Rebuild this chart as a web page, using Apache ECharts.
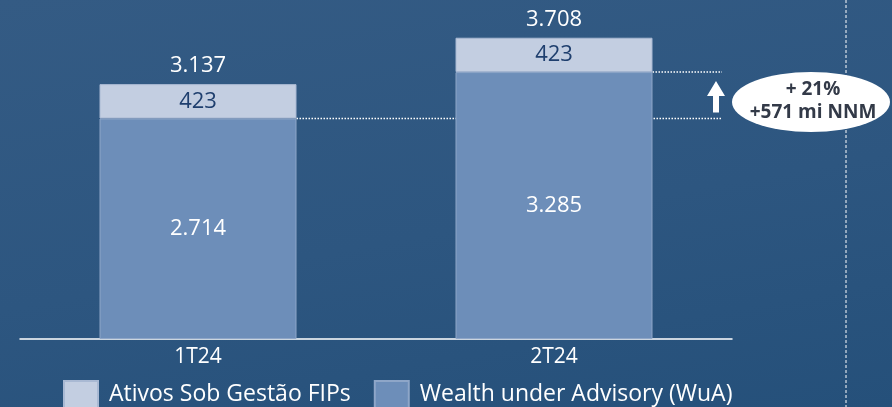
<!DOCTYPE html>
<html>
<head>
<meta charset="utf-8">
<script src="https://cdn.jsdelivr.net/npm/echarts@6/dist/echarts.min.js"></script>
<style>
  html, body { margin: 0; padding: 0; }
  #main {
    width: 892px; height: 407px;
    background: linear-gradient(170deg, #345b84 0%, #2d5680 55%, #25507a 100%);
  }
</style>
</head>
<body>
<div id="main"></div>
<script>
// dados
var categorias = ['1T24', '2T24']
var wua = [2714, 3285]          // Wealth under Advisory (WuA)
var fips = [423, 423]           // Ativos Sob Gestão FIPs
var nomeFips = 'Ativos Sob Gestão FIPs'
var nomeWua = 'Wealth under Advisory (WuA)'
var destaque = ['+ 21%', '+571 mi NNM']

var totais = wua.map(function (v, i) { return v + fips[i] })

var FONTE = '"Open Sans", "Noto Sans", sans-serif'
var LARGURA_BARRA = 197

// formato pt-BR: 3.137
function fmt(v) {
  return String(v).replace(/\B(?=(\d{3})+(?!\d))/g, '.')
}

var chart = echarts.init(document.getElementById('main'), null, { renderer: 'canvas' })

var option = {
  backgroundColor: 'transparent',
  animation: false,
  grid: { left: 20, right: 160, top: 14, bottom: 68 },
  legend: {
    data: [nomeFips, nomeWua],
    left: 63,
    top: 380,
    padding: 0,
    itemWidth: 34,
    itemHeight: 27,
    itemGap: 23,
    icon: 'rect',
    textStyle: { color: '#ffffff', fontSize: 23, fontFamily: FONTE, padding: [0, 0, 0, 6] }
  },
  xAxis: {
    type: 'category',
    data: categorias,
    axisLine: { lineStyle: { color: '#ffffff', width: 1.5 } },
    axisTick: { show: false },
    axisLabel: { color: '#ffffff', fontSize: 21, fontFamily: FONTE, margin: 8 }
  },
  yAxis: {
    type: 'value',
    min: 0,
    max: 4000,
    show: false,
    splitLine: { show: false }
  },
  series: [
    {
      name: nomeWua,
      type: 'bar',
      stack: 'total',
      barWidth: LARGURA_BARRA,
      data: wua,
      itemStyle: { color: '#6d8eb9', borderColor: '#8ea6c8', borderWidth: 1 },
      label: {
        show: true,
        position: 'inside',
        color: '#ffffff',
        fontSize: 22,
        fontFamily: FONTE,
        formatter: function (p) { return fmt(p.value) }
      }
    },
    {
      name: nomeFips,
      type: 'bar',
      stack: 'total',
      barWidth: LARGURA_BARRA,
      data: fips,
      itemStyle: { color: '#c3cee1', borderColor: '#a9b9d3', borderWidth: 1 },
      label: {
        show: true,
        position: 'inside',
        color: '#1f3f6e',
        fontSize: 22,
        fontFamily: FONTE,
        formatter: function (p) { return fmt(p.value) }
      }
    },
    {
      // só para o rótulo do total
      name: 'Total',
      type: 'bar',
      barWidth: LARGURA_BARRA,
      barGap: '-100%',
      data: totais,
      z: 0,
      silent: true,
      itemStyle: { color: 'rgba(0,0,0,0)' },
      label: {
        show: true,
        position: 'top',
        distance: 7,
        color: '#ffffff',
        fontSize: 22,
        fontFamily: FONTE,
        formatter: function (p) { return fmt(p.value) }
      }
    }
  ]
}

chart.setOption(option)

// anotações: linhas pontilhadas, seta, elipse e linha tracejada
var p1 = chart.convertToPixel({ seriesIndex: 0 }, [categorias[0], wua[0]])
var p2 = chart.convertToPixel({ seriesIndex: 0 }, [categorias[1], wua[1]])
var fimLinha = 722
var xSeta = 716
var cx = 811, cy = 102

chart.setOption({
  graphic: [
    {
      type: 'line',
      shape: { x1: p1[0] + LARGURA_BARRA / 2, y1: p1[1], x2: fimLinha, y2: p1[1] },
      style: { stroke: '#ffffff', lineWidth: 1.5, lineDash: [1.5, 1.5] }
    },
    {
      type: 'line',
      shape: { x1: p2[0] + LARGURA_BARRA / 2, y1: p2[1], x2: fimLinha, y2: p2[1] },
      style: { stroke: '#ffffff', lineWidth: 1.5, lineDash: [1.5, 1.5] }
    },
    {
      type: 'polygon',
      shape: {
        points: [
          [xSeta - 3, p1[1] - 6], [xSeta + 3, p1[1] - 6], [xSeta + 3, p2[1] + 24],
          [xSeta + 9, p2[1] + 24], [xSeta, p2[1] + 9], [xSeta - 9, p2[1] + 24],
          [xSeta - 3, p2[1] + 24]
        ]
      },
      style: { fill: '#ffffff' }
    },
    {
      type: 'circle',
      x: cx, y: cy,
      scaleX: 79 / 30,
      shape: { cx: 0, cy: 0, r: 30 },
      style: { fill: '#ffffff' }
    },
    {
      type: 'text',
      x: 813, y: 90,
      style: {
        text: destaque[0], fill: '#333a48', font: 'bold 19px ' + FONTE,
        textAlign: 'center', textVerticalAlign: 'middle'
      }
    },
    {
      type: 'text',
      x: 813, y: 113,
      style: {
        text: destaque[1], fill: '#333a48', font: 'bold 19px ' + FONTE,
        textAlign: 'center', textVerticalAlign: 'middle'
      }
    },
    {
      type: 'line',
      shape: { x1: 846, y1: 0, x2: 846, y2: 407 },
      style: { stroke: '#ffffff', lineWidth: 1, lineDash: [3, 2] },
      z: -1
    }
  ]
})
</script>
</body>
</html>
